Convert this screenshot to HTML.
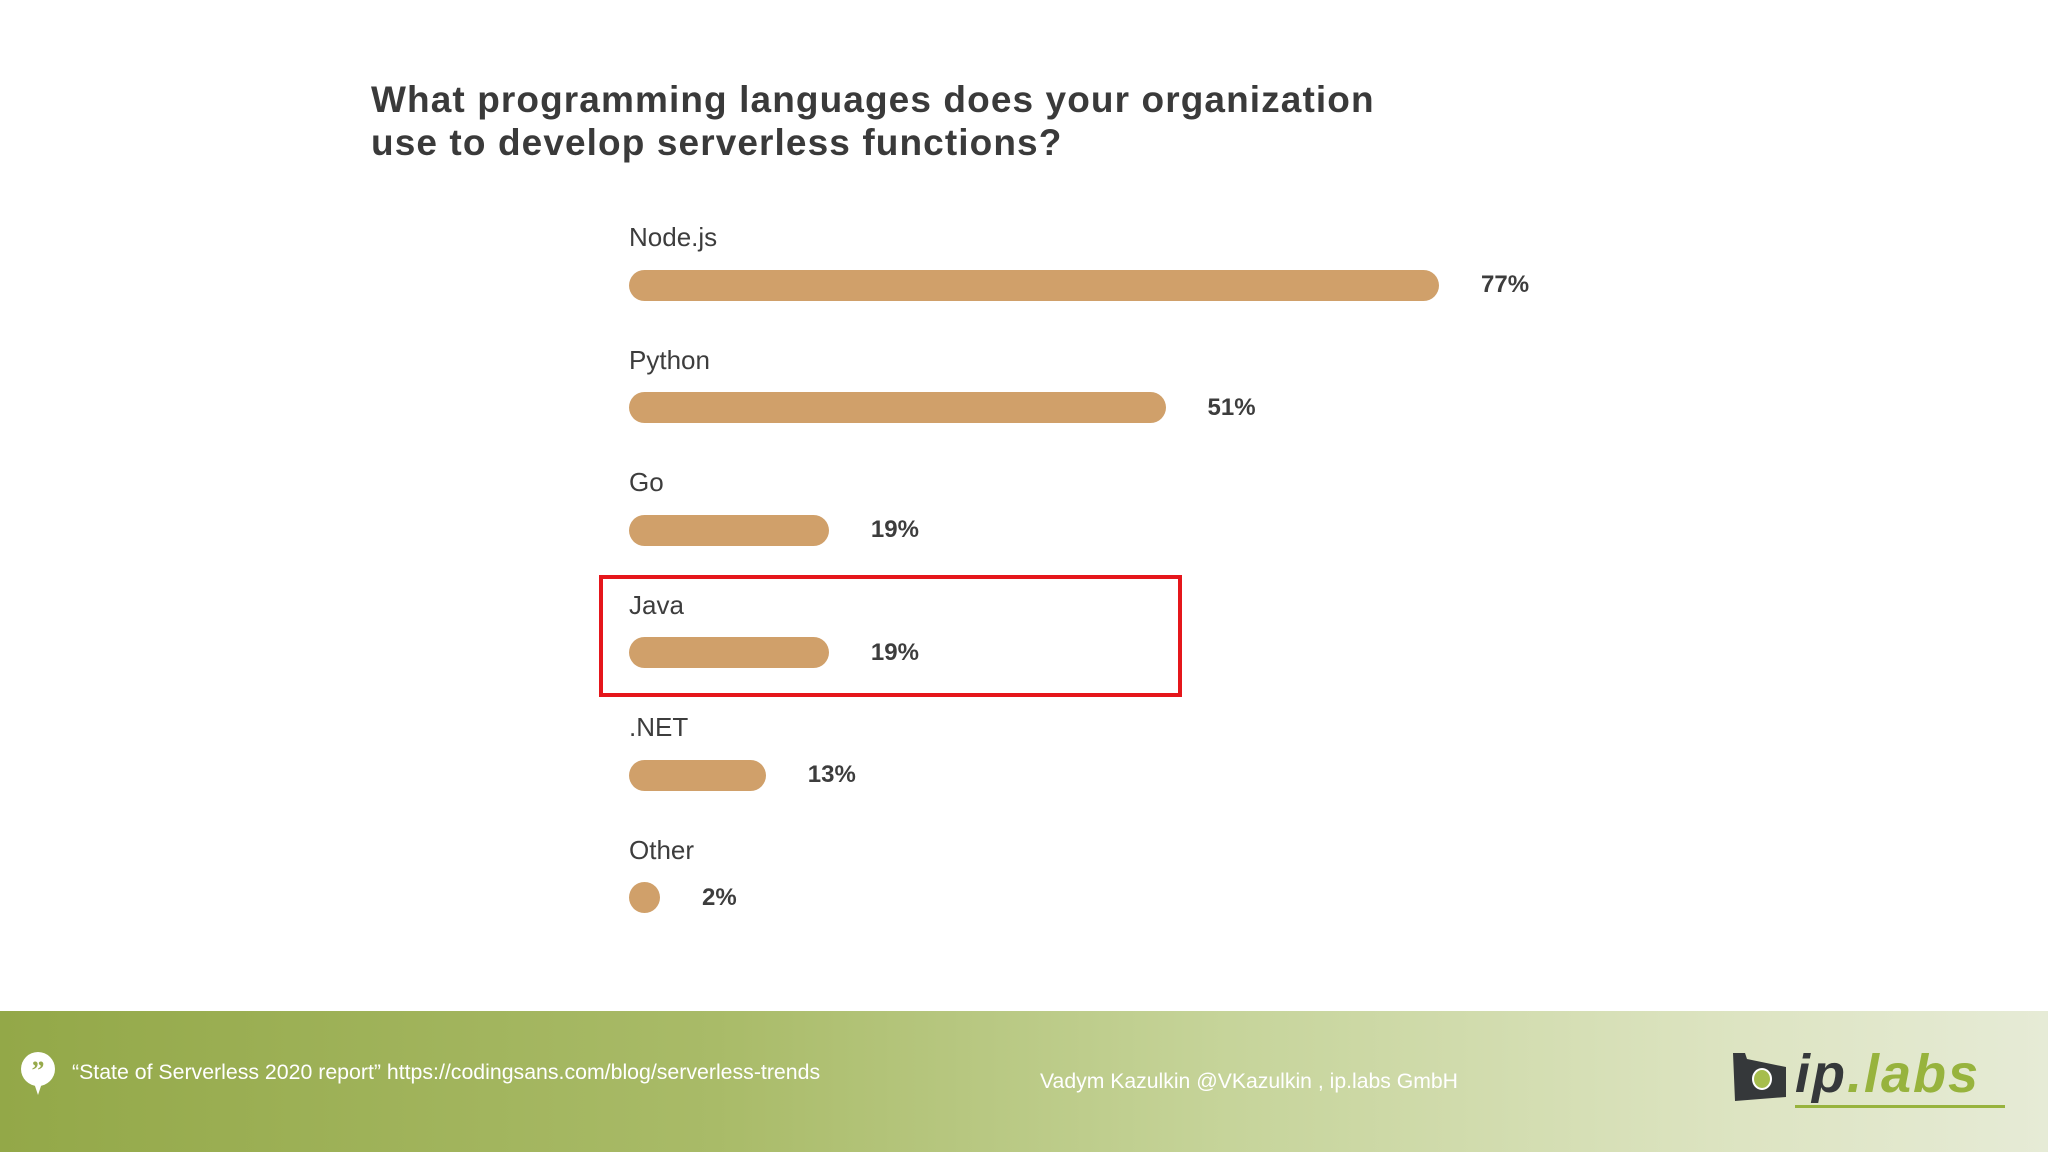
<!DOCTYPE html>
<html><head><meta charset="utf-8"><style>
body{margin:0;width:2048px;height:1152px;overflow:hidden;background:#fff;font-family:"Liberation Sans",sans-serif;position:relative}
#title{position:absolute;left:371px;top:78px;font-size:37px;font-weight:bold;color:#3a3a3a;line-height:43px;margin:0;letter-spacing:1.1px}
.lab{position:absolute;font-size:26px;color:#3d3d3d}
.val{position:absolute;font-size:24px;font-weight:bold;color:#3d3d3d}
.bar{position:absolute;height:31px;border-radius:16px;background:#d0a06a}
#hl{position:absolute;left:599px;top:575px;width:575px;height:114px;border:4px solid #e5161b}
#footer{position:absolute;left:0;top:1011px;width:2048px;height:141px;background:linear-gradient(90deg,#93a848 0%,#a9bb68 35%,#c6d49a 60%,#dde4c2 85%,#e6ebd6 100%)}
</style></head><body>
<h1 id="title">What programming languages does your organization<br>use to develop serverless functions?</h1>
<div id="chart"></div>
<div id="hl"></div>
<div id="footer">
 <svg style="position:absolute;left:20px;top:40px" width="36" height="44"><ellipse cx="18" cy="18" rx="17" ry="17" fill="#fff"/><path d="M14 32 L18 44 L22 32Z" fill="#fff"/><text x="18" y="28" font-size="26" font-weight="bold" text-anchor="middle" fill="#97aa4c" font-family="Liberation Serif,serif">”</text></svg>
 <div style="position:absolute;left:72px;top:49px;font-size:21.3px;color:#fff">“State of Serverless 2020 report” https://codingsans.com/blog/serverless-trends</div>
 <div style="position:absolute;left:1040px;top:59px;font-size:21.2px;color:#fff">Vadym Kazulkin @VKazulkin , ip.labs GmbH</div>
 <div style="position:absolute;left:1731px;top:40px;width:275px;height:60px">
  <svg width="60" height="56" style="position:absolute;left:0;top:0"><path d="M2 2 L14 2 L16 8 L55 16 L55 46 L4 50Z" fill="#35383a"/><ellipse cx="31" cy="28" rx="9" ry="10" fill="#a6bd4d" stroke="#fff" stroke-width="2"/></svg>
  <div style="position:absolute;left:64px;top:-8px;font-size:54px;font-weight:bold;font-style:italic;color:#35383a;letter-spacing:2px">ip<span style="color:#97b33d">.labs</span></div>
  <div style="position:absolute;left:64px;top:54px;width:210px;height:3px;background:#97b33d"></div>
 </div>
</div>
<script>
const categories=["Node.js","Python","Go","Java",".NET","Other"];
const values=[77,51,19,19,13,2];
const valueLabels=["77%","51%","19%","19%","13%","2%"];
const x0=629, pxPer=10.52, barH=31, rowStart=285, rowStep=122.5;
function xScale(v){return v*pxPer;}
function yCenter(i){return rowStart+i*rowStep;}
const chart=document.getElementById('chart');
categories.forEach((c,i)=>{
  const yc=yCenter(i);
  const w=Math.max(barH,xScale(values[i]));
  const l=document.createElement('div');l.className='lab';
  
  
  l.textContent=c;l.style.left=x0+'px';l.style.top=(yc-63)+'px';chart.appendChild(l);
  const b=document.createElement('div');b.className='bar';
  
  
  b.style.left=x0+'px';b.style.top=(yc-barH/2)+'px';b.style.width=w+'px';chart.appendChild(b);
  const v=document.createElement('div');v.className='val';
  
  
  v.textContent=valueLabels[i];v.style.left=(x0+w+42)+'px';v.style.top=(yc-14)+'px';chart.appendChild(v);
});
</script>
</body></html>
